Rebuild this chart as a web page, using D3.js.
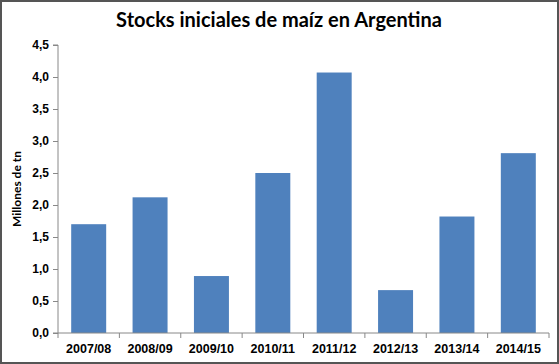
<!DOCTYPE html>
<html>
<head>
<meta charset="utf-8">
<script src="https://cdn.jsdelivr.net/npm/d3@7"></script>
<style>
  body { margin: 0; background: #fff; }
  svg { display: block; font-family: Lato, "Open Sans", sans-serif; }
</style>
</head>
<body>
<svg id="chart" width="559" height="364"></svg>
<script>
var campaigns = ['2007/08', '2008/09', '2009/10', '2010/11', '2011/12', '2012/13', '2013/14', '2014/15'];
var stocks = [1.70, 2.12, 0.89, 2.50, 4.07, 0.67, 1.82, 2.81];
var yTicks = [0, 0.5, 1, 1.5, 2, 2.5, 3, 3.5, 4, 4.5];

var svg = d3.select('#chart');
var width = 559, height = 364;

var marginLeft = 58, marginRight = 10;
var yTop = 45, yBottom = 333;

// frame
svg.append('rect')
    .attr('x', 1).attr('y', 1)
    .attr('width', width - 2).attr('height', height - 2)
    .attr('fill', '#fff')
    .attr('stroke', '#555').attr('stroke-width', 2);

var x = d3.scaleBand()
    .domain(campaigns)
    .range([marginLeft, width - marginRight])
    .paddingInner(0.43)
    .paddingOuter(0.215);

var xEdges = d3.scaleLinear()
    .domain([0, campaigns.length])
    .range([marginLeft, width - marginRight]);

var y = d3.scaleLinear()
    .domain([0, 4.5])
    .range([yBottom, yTop]);

// bars
svg.append('g')
    .selectAll('rect')
    .data(stocks)
    .enter()
    .append('rect')
    .attr('x', (d, i) => x(campaigns[i]))
    .attr('y', d => y(d))
    .attr('width', x.bandwidth())
    .attr('height', d => y(0) - y(d))
    .attr('fill', '#4f81bd');

// y axis
var yAxis = svg.append('g')
    .attr('transform', 'translate(' + marginLeft + ',0)')
    .call(d3.axisLeft(y)
        .tickValues(yTicks)
        .tickSize(5)
        .tickPadding(4)
        .tickFormat(d => d3.format('.1f')(d).replace('.', ',')));
yAxis.select('.domain').attr('stroke', '#888').attr('d', 'M-5,' + yTop + 'H0V' + yBottom + 'H-5');
yAxis.selectAll('.tick line').attr('stroke', '#888');
yAxis.selectAll('.tick text')
    .attr('fill', '#000')
    .style('font-size', '12px')
    .style('font-weight', 'bold');

// x axis
var xAxis = svg.append('g')
    .attr('transform', 'translate(0,' + yBottom + ')')
    .call(d3.axisBottom(x).tickSize(0).tickPadding(11));
xAxis.select('.domain').attr('stroke', '#888').attr('d', 'M' + marginLeft + ',0H' + (width - marginRight));
xAxis.selectAll('.tick text')
    .attr('fill', '#000')
    .style('font-size', '12.5px')
    .style('font-weight', 'bold');
xAxis.selectAll('.edge')
    .data(d3.range(campaigns.length + 1))
    .enter()
    .append('line')
    .attr('x1', d => xEdges(d)).attr('x2', d => xEdges(d))
    .attr('y1', 0).attr('y2', 5)
    .attr('stroke', '#888');

// y label
svg.append('text')
    .attr('transform', 'translate(21,' + ((yTop + yBottom) / 2) + ') rotate(-90)')
    .attr('text-anchor', 'middle')
    .style('font-size', '12px')
    .style('font-weight', 'bold')
    .text('Millones de tn');

// title
svg.append('text')
    .attr('x', 279).attr('y', 27)
    .attr('text-anchor', 'middle')
    .style('font-size', '20px')
    .style('font-weight', 'bold')
    .text('Stocks iniciales de maíz en Argentina');
</script>
</body>
</html>
